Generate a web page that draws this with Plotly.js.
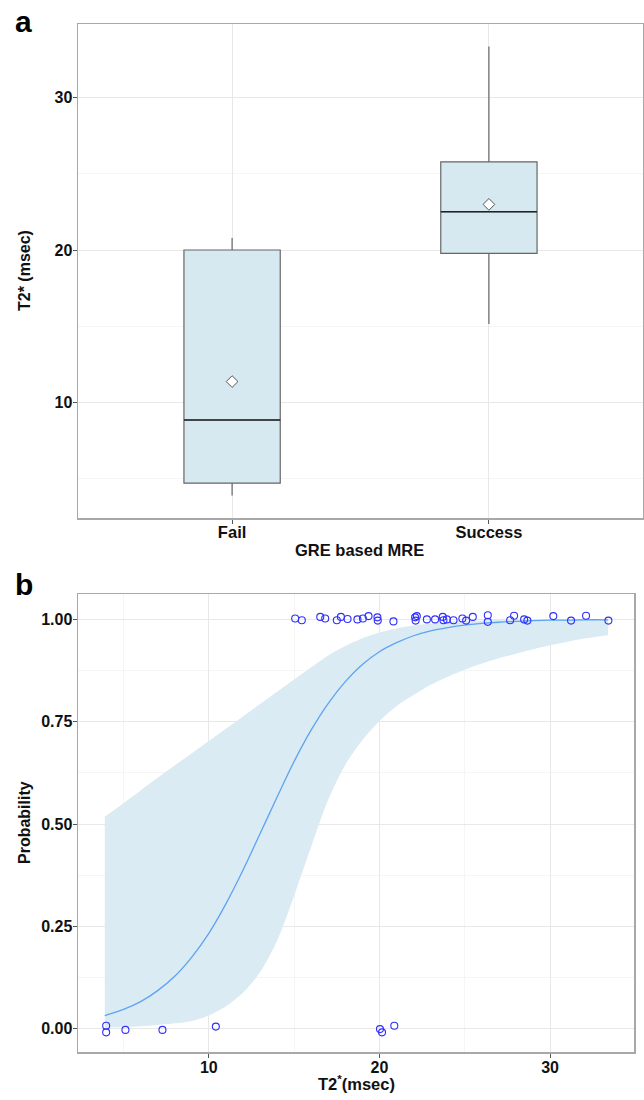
<!DOCTYPE html>
<html>
<head>
<meta charset="utf-8">
<script src="https://cdn.plot.ly/plotly-3.0.1.min.js"></script>
<style>html,body{margin:0;padding:0;background:#fff;}#chart{width:644px;height:1100px;}</style>
</head>
<body>
<div id="chart"></div>
<script>
// ---------- Panel a: box plot data ----------
const boxCategories = ['Fail', 'Success'];
const boxQ1 = [4.72, 19.78];
const boxMedian = [8.86, 22.51];
const boxQ3 = [20.0, 25.78];
const boxLowerFence = [3.91, 15.15];
const boxUpperFence = [20.79, 33.34];
const boxMean = [11.38, 22.99];

// ---------- Panel b: logistic fit with confidence band ----------
const fitX = [3.9, 5, 6, 7, 8, 9, 10, 11, 12, 13, 14, 15, 16, 17, 18, 19, 20, 21, 22, 23, 24, 25, 26, 27, 28, 29, 30, 31, 32, 33.4];
const fitP = [0.032, 0.047, 0.066, 0.093, 0.128, 0.175, 0.233, 0.305, 0.387, 0.476, 0.566, 0.653, 0.730, 0.795, 0.848, 0.890, 0.921, 0.943, 0.960, 0.972, 0.980, 0.986, 0.990, 0.993, 0.995, 0.997, 0.998, 0.998, 0.999, 0.999];
const fitLower = [0.002, 0.004, 0.006, 0.009, 0.013, 0.019, 0.032, 0.055, 0.088, 0.138, 0.215, 0.325, 0.445, 0.560, 0.645, 0.705, 0.752, 0.788, 0.815, 0.840, 0.860, 0.877, 0.892, 0.905, 0.916, 0.927, 0.937, 0.945, 0.953, 0.961];
const fitUpper = [0.518, 0.551, 0.582, 0.613, 0.643, 0.673, 0.703, 0.733, 0.763, 0.793, 0.823, 0.853, 0.883, 0.912, 0.935, 0.954, 0.968, 0.978, 0.985, 0.990, 0.994, 0.996, 0.9975, 0.9985, 0.999, 0.9995, 0.9997, 0.9998, 0.9999, 1.0];

// ---------- Panel b: observed points (jittered) ----------
const failX = [3.98, 3.98, 5.11, 7.28, 10.41, 20.03, 20.15, 20.87];
const failY = [0.007, -0.009, -0.003, -0.003, 0.005, -0.001, -0.009, 0.007];
const successX = [15.06, 15.45, 16.53, 16.82, 17.5, 17.74, 18.13, 18.71, 19.03, 19.36, 19.88, 19.9, 20.82, 22.09, 22.12, 22.19, 22.78, 23.26, 23.71, 23.75, 23.95, 24.34, 24.86, 25.08, 25.47, 26.35, 26.35, 27.66, 27.89, 28.48, 28.67, 30.19, 31.23, 32.11, 33.42];
const successY = [1.002, 0.998, 1.006, 1.002, 0.998, 1.006, 1.001, 1.0, 1.002, 1.008, 1.005, 0.997, 0.995, 1.005, 0.997, 1.008, 1.0, 1.0, 1.006, 0.998, 1.0, 0.998, 1.002, 0.997, 1.006, 1.010, 0.994, 0.998, 1.009, 1.0, 0.997, 1.008, 0.997, 1.009, 0.997];

// ---------- styling ----------
const FONT = 'Liberation Sans, Arial, Helvetica, sans-serif';
const W = 644, H = 1100;
const BOX_W = 0.375;
const catPos = boxCategories.map((_, i) => i);

// median overlay segments (darker line as in reference)
const medX = [], medY = [];
catPos.forEach((p, i) => {
  medX.push(p - BOX_W / 2, p + BOX_W / 2, null);
  medY.push(boxMedian[i], boxMedian[i], null);
});

const traces = [
  {
    type: 'box', x: catPos, q1: boxQ1, median: boxMedian, q3: boxQ3,
    lowerfence: boxLowerFence, upperfence: boxUpperFence,
    width: BOX_W, whiskerwidth: 0, boxpoints: false,
    fillcolor: '#d6e9f0', line: { color: '#666666', width: 1.2 },
    xaxis: 'x', yaxis: 'y', hoverinfo: 'skip'
  },
  {
    type: 'scatter', mode: 'lines', x: medX, y: medY,
    line: { color: '#222222', width: 1.4 }, xaxis: 'x', yaxis: 'y', hoverinfo: 'skip'
  },
  {
    type: 'scatter', mode: 'markers', x: catPos, y: boxMean,
    marker: { symbol: 'diamond', size: 9, color: '#ffffff', line: { color: '#555555', width: 1 } },
    xaxis: 'x', yaxis: 'y', hoverinfo: 'skip'
  },
  {
    type: 'scatter', mode: 'lines', x: fitX, y: fitLower,
    line: { width: 0, color: 'rgba(0,0,0,0)', shape: 'spline', smoothing: 0.8 },
    xaxis: 'x2', yaxis: 'y2', hoverinfo: 'skip'
  },
  {
    type: 'scatter', mode: 'lines', x: fitX, y: fitUpper, fill: 'tonexty',
    fillcolor: '#daebf3', line: { width: 0, color: 'rgba(0,0,0,0)', shape: 'spline', smoothing: 0.8 },
    xaxis: 'x2', yaxis: 'y2', hoverinfo: 'skip'
  },
  {
    type: 'scatter', mode: 'lines', x: fitX, y: fitP,
    line: { color: '#5ea3f2', width: 1.3, shape: 'spline' }, xaxis: 'x2', yaxis: 'y2', hoverinfo: 'skip'
  },
  {
    type: 'scatter', mode: 'markers', x: failX.concat(successX), y: failY.concat(successY),
    marker: { symbol: 'circle-open', size: 7, color: '#2f2fff', line: { width: 1.1 } },
    xaxis: 'x2', yaxis: 'y2', hoverinfo: 'skip'
  }
];

const axisCommon = {
  showline: true, mirror: true, linecolor: '#a8a8a8', linewidth: 1.5,
  ticks: 'outside', ticklen: 4, tickwidth: 1, tickcolor: '#555555',
  gridcolor: '#e8e8e8', gridwidth: 1, zeroline: false,
  tickfont: { family: FONT, size: 16, color: '#111111', weight: 700 }
};

const px = v => v / W;
const py = v => 1 - v / H;

const layout = {
  width: W, height: H,
  margin: { l: 0, r: 0, t: 0, b: 0 },
  paper_bgcolor: '#ffffff', plot_bgcolor: '#ffffff',
  showlegend: false,
  xaxis: Object.assign({}, axisCommon, {
    domain: [px(78), px(643)], range: [-0.6, 1.6],
    tickvals: catPos, ticktext: boxCategories, anchor: 'y', ticklabelstandoff: -5,
    tickfont: { family: FONT, size: 16.5, color: '#111111', weight: 700 }
  }),
  yaxis: Object.assign({}, axisCommon, {
    domain: [py(518), py(24)], range: [2.44, 34.81],
    tickvals: [10, 20, 30], anchor: 'x', ticklabelstandoff: -3,
    minor: { showgrid: true, gridcolor: '#f5f5f5', tickvals: [5, 15, 25], ticks: '' }
  }),
  xaxis2: Object.assign({}, axisCommon, {
    domain: [px(78), px(634)], range: [2.33, 34.92],
    tickvals: [10, 20, 30], anchor: 'y2', ticklabelstandoff: -4,
    minor: { showgrid: true, gridcolor: '#f5f5f5', tickvals: [5, 15, 25], ticks: '' }
  }),
  yaxis2: Object.assign({}, axisCommon, {
    domain: [py(1052), py(594)], range: [-0.057, 1.062],
    tickvals: [0, 0.25, 0.5, 0.75, 1.0], tickformat: '.2f', anchor: 'x2', ticklabelstandoff: -3,
    minor: { showgrid: true, gridcolor: '#f5f5f5', tickvals: [0.125, 0.375, 0.625, 0.875], ticks: '' }
  }),
  annotations: [
    { text: '<b>a</b>', xref: 'paper', yref: 'paper', x: px(13), y: py(40), xanchor: 'left', yanchor: 'bottom',
      showarrow: false, font: { family: FONT, size: 30, color: '#000' } },
    { text: '<b>b</b>', xref: 'paper', yref: 'paper', x: px(13), y: py(603), xanchor: 'left', yanchor: 'bottom',
      showarrow: false, font: { family: FONT, size: 30, color: '#000' } },
    { text: '<b>T2* (msec)</b>', xref: 'paper', yref: 'paper', x: px(24), y: py(271), xanchor: 'center', yanchor: 'middle',
      textangle: -90, showarrow: false, font: { family: FONT, size: 16, color: '#111' } },
    { text: '<b>GRE based MRE</b>', xref: 'paper', yref: 'paper', x: px(360), y: py(550), xanchor: 'center', yanchor: 'middle',
      showarrow: false, font: { family: FONT, size: 16.5, color: '#111' } },
    { text: '<b>Probability</b>', xref: 'paper', yref: 'paper', x: px(24), y: py(823), xanchor: 'center', yanchor: 'middle',
      textangle: -90, showarrow: false, font: { family: FONT, size: 16, color: '#111' } },
    { text: '<b>T2<sup>*</sup>(msec)</b>', xref: 'paper', yref: 'paper', x: px(356), y: py(1083), xanchor: 'center', yanchor: 'middle',
      showarrow: false, font: { family: FONT, size: 16.5, color: '#111' } }
  ]
};

Plotly.newPlot('chart', traces, layout, { staticPlot: true, displayModeBar: false });
</script>
</body>
</html>
